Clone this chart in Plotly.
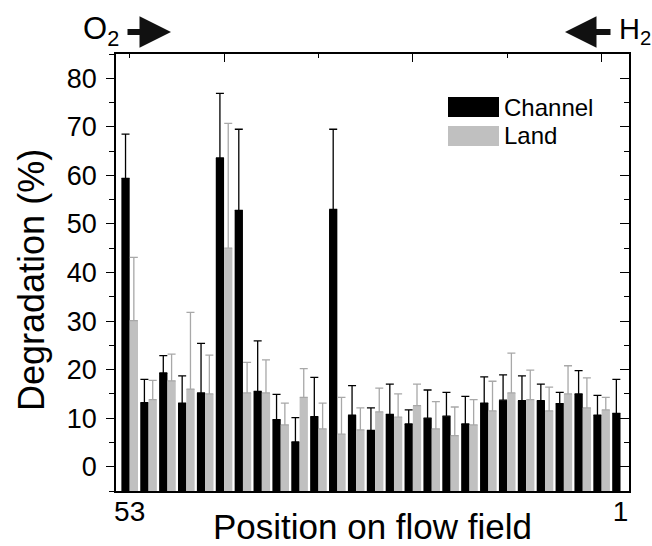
import plotly.graph_objects as go

# Positions on flow field (53 -> 1, step 2)
positions = list(range(53, 0, -2))

channel = [59.4, 13.2, 19.3, 13.1, 15.2, 63.6, 52.8, 15.5, 9.7, 5.1,
           10.3, 53.0, 10.6, 7.5, 10.8, 8.8, 10.0, 10.4, 8.8, 13.1,
           13.7, 13.6, 13.6, 13.0, 15.0, 10.6, 11.0]
channel_err = [9.1, 4.8, 3.6, 5.6, 10.2, 13.3, 16.7, 10.4, 5.2, 5.0,
               8.1, 16.5, 6.1, 4.6, 6.2, 2.9, 5.8, 4.9, 5.7, 5.4,
               5.2, 5.1, 3.4, 2.3, 4.8, 4.1, 7.0]

land = [30.1, 13.8, 17.7, 16.0, 15.0, 45.0, 15.2, 15.2, 8.6, 14.3,
        7.8, 6.7, 7.6, 11.3, 10.2, 12.6, 7.8, 6.4, 8.6, 11.5,
        15.2, 13.8, 11.5, 15.0, 12.1, 11.7, None]
land_err = [13.0, 4.0, 5.5, 15.8, 8.0, 25.7, 6.3, 6.8, 4.5, 5.9,
            5.3, 7.6, 4.5, 4.9, 4.8, 4.4, 5.6, 5.9, 5.2, 6.1,
            8.2, 6.1, 4.9, 5.8, 6.2, 2.6, None]

y_ticks = [0, 10, 20, 30, 40, 50, 60, 70, 80]
x_ticks = [53, 1]
x_ticktext = ["53", "1"]

FONT = "Liberation Sans, Arial, sans-serif"
BLACK = "#000000"
GRAY = "#c0c0c0"
BW = 0.88
YR = [-5, 85]
XR = [54.45, 0.1]
BASE = YR[0]  # bars are drawn up from the bottom axis


def from_base(vals):
    return [None if v is None else v - BASE for v in vals]


fig = go.Figure()
fig.add_trace(go.Bar(
    x=positions, y=from_base(channel), base=BASE, name="Channel", width=BW, offset=0,
    marker=dict(color=BLACK, line=dict(width=0)),
    error_y=dict(type="data", array=channel_err, symmetric=False,
                 arrayminus=[0] * len(channel_err),
                 color=BLACK, thickness=1.3, width=4),
    showlegend=False,
))
fig.add_trace(go.Bar(
    x=positions, y=from_base(land), base=BASE, name="Land", width=BW, offset=-BW,
    marker=dict(color=GRAY, line=dict(width=0)),
    error_y=dict(type="data", array=land_err, symmetric=False,
                 arrayminus=[0] * len(land_err),
                 color="#a8a8a8", thickness=1.3, width=4),
    showlegend=False,
))
# invisible helper trace for the mirrored axes
fig.add_trace(go.Scatter(x=[None], y=[None], xaxis="x2", yaxis="y2",
                         showlegend=False, hoverinfo="skip"))

minor_y = [-5, 5, 15, 25, 35, 45, 55, 65, 75, 85]

fig.update_layout(
    width=652, height=546,
    margin=dict(l=116, r=23, t=54, b=55, autoexpand=False),
    paper_bgcolor="white", plot_bgcolor="white",
    barmode="overlay",
    font=dict(family=FONT, color="black", size=27),
    xaxis=dict(range=XR, tickmode="array", tickvals=x_ticks, ticktext=x_ticktext,
               ticks="", showgrid=False, zeroline=False,
               showline=True, linecolor="black", linewidth=1.5, mirror=True,
               tickfont=dict(size=28), ticklabelstandoff=-5,
               title=dict(text="Position on flow field", font=dict(size=35), standoff=2)),
    yaxis=dict(range=YR, tickmode="array", tickvals=y_ticks,
               ticks="outside", ticklen=8, tickwidth=1.3, tickcolor="black",
               minor=dict(tickmode="array", tickvals=minor_y,
                          ticks="outside", ticklen=5, tickwidth=1.3, tickcolor="black"),
               showgrid=False, zeroline=False,
               showline=True, linecolor="black", linewidth=1.5, mirror=True,
               tickfont=dict(size=27), ticklabelstandoff=4),
    xaxis2=dict(range=XR, overlaying="x", side="top", tickmode="array",
                tickvals=[3, 23, 43], ticks="inside", ticklen=8, tickwidth=1.3,
                tickcolor="black", showticklabels=False, showgrid=False,
                zeroline=False, showline=False,
                minor=dict(tickmode="array", tickvals=[13, 33, 53], ticks="inside",
                           ticklen=4, tickwidth=1.3, tickcolor="black")),
    yaxis2=dict(range=YR, overlaying="y", side="right", tickmode="array",
                tickvals=y_ticks, ticks="inside", ticklen=9, tickwidth=1.3,
                tickcolor="black", showticklabels=False, showgrid=False,
                zeroline=False, showline=False,
                minor=dict(tickmode="array", tickvals=minor_y,
                           ticks="inside", ticklen=5, tickwidth=1.3, tickcolor="black")),
)


# pixel -> paper helpers (plot area 116..629 x 54..491)
def px(x):
    return (x - 116) / (629 - 116)


def py(y):
    return (491 - y) / (491 - 54)


# y-axis title
fig.add_annotation(text="Degradation (%)", xref="paper", yref="paper",
                   x=px(31), y=py(280), textangle=-90, xanchor="center", yanchor="middle",
                   showarrow=False, font=dict(size=36, family=FONT))

# legend boxes + text
fig.add_shape(type="rect", xref="paper", yref="paper",
              x0=px(448), x1=px(499), y0=py(117), y1=py(97),
              fillcolor=BLACK, line=dict(width=0))
fig.add_shape(type="rect", xref="paper", yref="paper",
              x0=px(448), x1=px(499), y0=py(146), y1=py(126),
              fillcolor=GRAY, line=dict(width=0))
fig.add_annotation(text="Channel", xref="paper", yref="paper", x=px(502), y=py(107),
                   xanchor="left", yanchor="middle", showarrow=False,
                   font=dict(size=24, family=FONT))
fig.add_annotation(text="Land", xref="paper", yref="paper", x=px(502), y=py(136),
                   xanchor="left", yanchor="middle", showarrow=False,
                   font=dict(size=24, family=FONT))

# flow direction labels and arrows
fig.add_annotation(text="O<sub>2</sub>", xref="paper", yref="paper", x=px(81), y=py(31),
                   xanchor="left", yanchor="middle", showarrow=False,
                   font=dict(size=31, family=FONT))
fig.add_annotation(text="", xref="paper", yref="paper", x=px(171), y=py(32),
                   ax=-45, ay=0, showarrow=True, arrowhead=2, arrowsize=1.05,
                   arrowwidth=6, arrowcolor="#111111")
fig.add_annotation(text="H<sub>2</sub>", xref="paper", yref="paper", x=px(617), y=py(31),
                   xanchor="left", yanchor="middle", showarrow=False,
                   font=dict(size=29, family=FONT))
fig.add_annotation(text="", xref="paper", yref="paper", x=px(565), y=py(32),
                   ax=47, ay=0, showarrow=True, arrowhead=2, arrowsize=1.05,
                   arrowwidth=6, arrowcolor="#111111")

fig.write_html("out.html")
